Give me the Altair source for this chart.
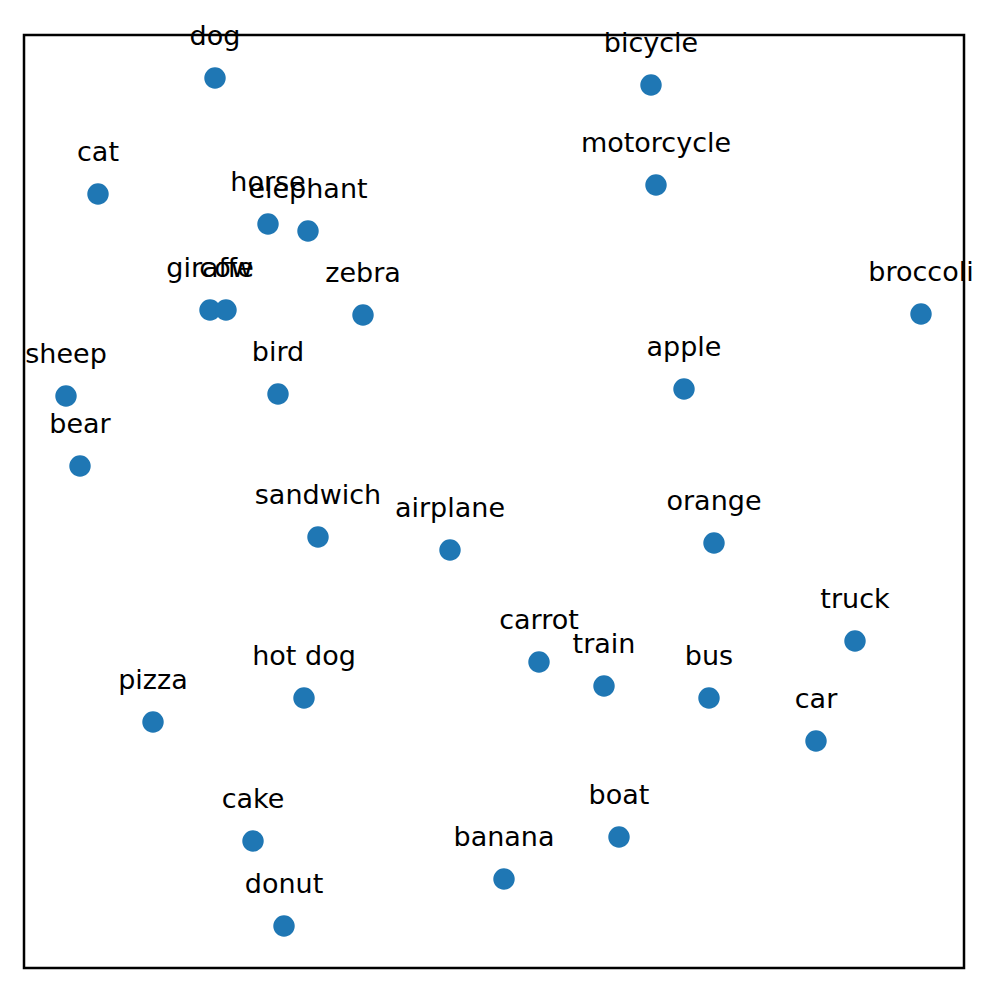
import altair as alt
import pandas as pd

labels = ["dog", "bicycle", "cat", "motorcycle", "horse", "elephant", "giraffe", "cow",
          "zebra", "broccoli", "sheep", "bird", "apple", "bear", "sandwich", "airplane",
          "orange", "truck", "carrot", "train", "bus", "hot dog", "pizza", "car",
          "cake", "boat", "banana", "donut"]
xs = [215, 651, 98, 656, 268, 308, 210, 226,
      363, 921, 66, 278, 684, 80, 318, 450,
      714, 855, 539, 604, 709, 304, 153, 816,
      253, 619, 504, 284]
ys = [78, 85, 194, 185, 224, 231, 310, 310,
      315, 314, 396, 394, 389, 466, 537, 550,
      543, 641, 662, 686, 698, 698, 722, 741,
      841, 837, 879, 926]

df = pd.DataFrame({"label": labels, "x": xs, "y": ys})

W, H = 940, 933
xscale = alt.Scale(domain=[24, 964], nice=False, zero=False)
yscale = alt.Scale(domain=[35, 968], nice=False, zero=False, reverse=True)

base = alt.Chart(df).encode(
    x=alt.X("x:Q", scale=xscale, axis=None),
    y=alt.Y("y:Q", scale=yscale, axis=None),
)

points = base.mark_circle(size=460, color="#1f77b4", opacity=1)
texts = base.mark_text(font="DejaVu Sans", fontSize=27, color="black",
                       align="center", baseline="alphabetic", dy=-33).encode(text="label:N")
frame = alt.Chart(pd.DataFrame({"a": [0]})).mark_rect(
    filled=False, stroke="black", strokeWidth=2.5
).encode(x=alt.value(0), x2=alt.value(W), y=alt.value(0), y2=alt.value(H))

chart = alt.layer(points, texts, frame).properties(
    width=W, height=H,
    autosize=alt.AutoSizeParams(type="none"),
    padding={"left": 16, "top": 27, "right": 10, "bottom": 10},
).configure_view(stroke=None)

chart.save("out.html", embed_options={"renderer": "svg", "actions": False})
